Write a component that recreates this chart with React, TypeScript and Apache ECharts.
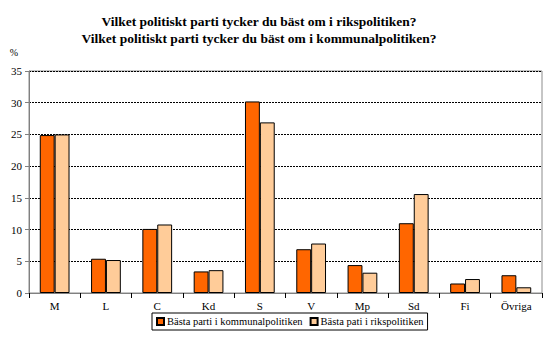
import React, { useEffect, useRef } from "react";
import * as echarts from "echarts";

const categories = ["M", "L", "C", "Kd", "S", "V", "Mp", "Sd", "Fi", "Övriga"];
const kommunal = [24.9, 5.4, 10.1, 3.4, 30.2, 6.9, 4.4, 11.0, 1.5, 2.8];
const riks = [25.0, 5.2, 10.8, 3.6, 26.9, 7.8, 3.2, 15.6, 2.2, 0.9];
const seriesNames = ["Bästa parti i kommunalpolitiken", "Bästa pati i rikspolitiken"];
const titleLines = [
  "Vilket politiskt parti tycker du bäst om i rikspolitiken?",
  "Vilket politiskt parti tycker du bäst om i kommunalpolitiken?",
];
const yUnit = "%";

const SERIF = "Liberation Serif";

export default function App() {
  const ref = useRef<HTMLDivElement>(null);
  useEffect(() => {
    if (!ref.current) return;
    const chart = echarts.init(ref.current, undefined, { renderer: "svg" });
    chart.setOption({
      animation: false,
      backgroundColor: "#ffffff",
      textStyle: { fontFamily: SERIF },
      graphic: [
        {
          type: "text",
          x: 259,
          y: 21,
          style: {
            text: titleLines[0],
            fontFamily: SERIF,
            fontSize: 13.5,
            fontWeight: "bold",
            fill: "#000",
            align: "center",
            verticalAlign: "middle",
          },
        },
        {
          type: "text",
          x: 259,
          y: 38,
          style: {
            text: titleLines[1],
            fontFamily: SERIF,
            fontSize: 13.5,
            fontWeight: "bold",
            fill: "#000",
            align: "center",
            verticalAlign: "middle",
          },
        },
        {
          type: "text",
          x: 14,
          y: 52,
          style: {
            text: yUnit,
            fontFamily: SERIF,
            fontSize: 10,
            fill: "#000",
            align: "center",
            verticalAlign: "middle",
          },
        },
      ],
      grid: {
        left: 29,
        right: 8,
        top: 71,
        bottom: 61,
        show: true,
        borderColor: "#8c8c8c",
        borderWidth: 1,
      },
      legend: {
        data: seriesNames,
        left: 152,
        top: 313,
        itemWidth: 7,
        itemHeight: 7,
        itemGap: 7,
        icon: "rect",
        padding: [3, 4, 3, 4],
        borderColor: "#000",
        borderWidth: 1,
        textStyle: { fontFamily: SERIF, fontSize: 10.5, color: "#000", padding: [0, 0, 0, -2] },
      },
      xAxis: {
        type: "category",
        data: categories,
        axisLine: { show: true, lineStyle: { color: "#808080" } },
        axisTick: { show: true, alignWithLabel: false, length: 5, lineStyle: { color: "#000" } },
        axisLabel: { fontFamily: SERIF, fontSize: 11, color: "#000", margin: 7 },
        splitLine: { show: false },
      },
      yAxis: {
        type: "value",
        min: 0,
        max: 35,
        interval: 5,
        axisLine: { show: true, lineStyle: { color: "#808080" } },
        axisTick: { show: true, length: 4, lineStyle: { color: "#808080" } },
        axisLabel: { fontFamily: SERIF, fontSize: 11, color: "#000", margin: 7 },
        splitLine: {
          show: true,
          lineStyle: { color: "#000", type: [2, 1], width: 1 },
        },
      },
      series: [
        {
          name: seriesNames[0],
          type: "bar",
          data: kommunal,
          barGap: "0%",
          barCategoryGap: "42%",
          itemStyle: { color: "#FF6600", borderColor: "#000", borderWidth: 1 },
        },
        {
          name: seriesNames[1],
          type: "bar",
          data: riks,
          itemStyle: { color: "#FFCC99", borderColor: "#000", borderWidth: 1 },
        },
      ],
    });
    return () => chart.dispose();
  }, []);
  return <div ref={ref} style={{ width: 550, height: 354, position: "absolute", left: 0, top: 0 }} />;
}
